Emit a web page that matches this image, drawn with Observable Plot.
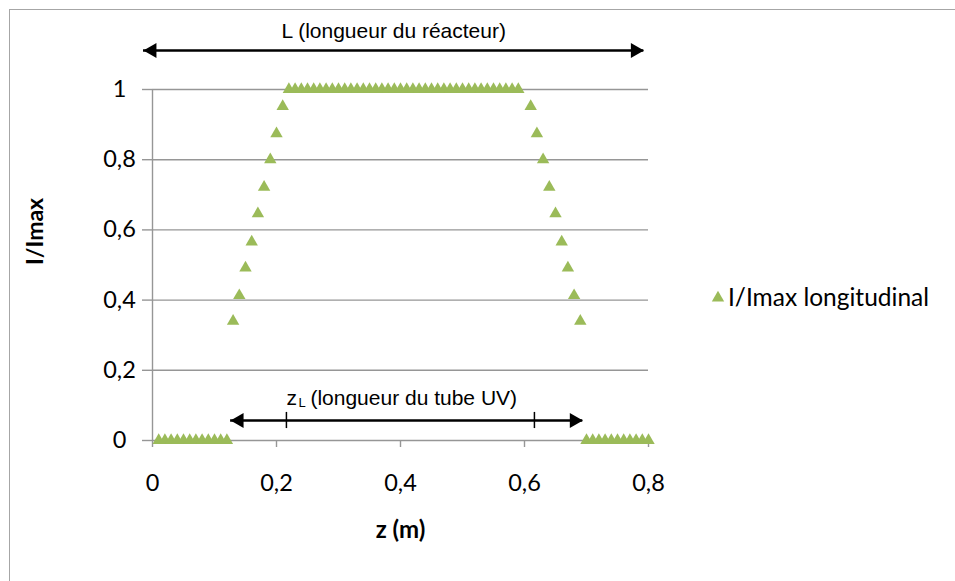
<!DOCTYPE html>
<html>
<head>
<meta charset="utf-8">
<script src="https://cdn.jsdelivr.net/npm/d3@7"></script>
<script src="https://cdn.jsdelivr.net/npm/@observablehq/plot@0.6"></script>
<style>
  html, body { margin: 0; padding: 0; background: #fff; overflow: hidden; }
  #wrap { position: relative; width: 955px; height: 581px; }
  #border { position: absolute; left: 9px; top: 9px; width: 980px; height: 620px; border: 1px solid #a6a6a6; box-sizing: border-box; }
  #chart { position: absolute; left: 0; top: 0; }
  #legend { position: absolute; left: 711px; top: 282px; display: flex; align-items: center; font-family: Lato, sans-serif; font-size: 24.5px; color: #000; }
  #legend svg { margin-right: 3px; }
  .annot text { font-family: "Liberation Sans", Arial, sans-serif; }
</style>
</head>
<body>
<div id="wrap">
  <div id="border"></div>
  <div id="chart"></div>
  <div id="legend"></div>
</div>
<script>
// Series: position along the reactor (m) and normalised intensity
const z = [
  0.01, 0.02, 0.03, 0.04, 0.05, 0.06, 0.07, 0.08, 0.09, 0.10, 0.11, 0.12,
  0.13, 0.14, 0.15, 0.16, 0.17, 0.18, 0.19, 0.20, 0.21,
  0.22, 0.23, 0.24, 0.25, 0.26, 0.27, 0.28, 0.29, 0.30, 0.31, 0.32, 0.33, 0.34,
  0.35, 0.36, 0.37, 0.38, 0.39, 0.40, 0.41, 0.42, 0.43, 0.44, 0.45, 0.46, 0.47,
  0.48, 0.49, 0.50, 0.51, 0.52, 0.53, 0.54, 0.55, 0.56, 0.57, 0.58, 0.59,
  0.61, 0.62, 0.63, 0.64, 0.65, 0.66, 0.67, 0.68, 0.69,
  0.70, 0.71, 0.72, 0.73, 0.74, 0.75, 0.76, 0.77, 0.78, 0.79, 0.80
];
const intensity = [
  0, 0, 0, 0, 0, 0, 0, 0, 0, 0, 0, 0,
  0.34, 0.413, 0.492, 0.566, 0.646, 0.722, 0.80, 0.874, 0.952,
  1, 1, 1, 1, 1, 1, 1, 1, 1, 1, 1, 1, 1,
  1, 1, 1, 1, 1, 1, 1, 1, 1, 1, 1, 1, 1,
  1, 1, 1, 1, 1, 1, 1, 1, 1, 1, 1, 1,
  0.952, 0.874, 0.80, 0.722, 0.646, 0.566, 0.492, 0.413, 0.34,
  0, 0, 0, 0, 0, 0, 0, 0, 0, 0, 0
];
const seriesName = "I/Imax longitudinal";
const xTicks = [0, 0.2, 0.4, 0.6, 0.8];
const yTicks = [0, 0.2, 0.4, 0.6, 0.8, 1];
const xTitle = "z (m)";
const yTitle = "I/Imax";

// Annotations (in data units)
const reactorArrow = [-0.0145, 0.7925];   // z extent of the "L" arrow
const reactorArrowY = 1.111;
const reactorLabel = "L (longueur du réacteur)";
const reactorLabelY = 1.166;
const tubeArrow = [0.126, 0.694];          // z extent of the "zL" arrow
const tubeArrowY = 0.057;
const tubeEnds = [0.216, 0.616];          // UV tube ends (tick marks)
const tubeTickY = [0.034, 0.080];
const tubeLabelMain = "z";
const tubeLabelSub = "L";
const tubeLabelRest = "(longueur du tube UV)";
const tubeLabelY = 0.121;

const data = z.map((v, i) => ({z: v, I: intensity[i]}));
const green = "#9bbb59";
const grid = "#969696";
const fmt = d => String(d).replace(".", ",");
const arial = "Liberation Sans, Arial, sans-serif";

const arrows = [
  {x1: reactorArrow[0], x2: reactorArrow[1], y: reactorArrowY},
  {x1: tubeArrow[0], x2: tubeArrow[1], y: tubeArrowY}
];
const headsL = arrows.map(a => ({x: a.x1, y: a.y}));
const headsR = arrows.map(a => ({x: a.x2, y: a.y}));

const chart = Plot.plot({
  width: 955,
  height: 581,
  marginLeft: 152,
  marginRight: 307,
  marginTop: 89,
  marginBottom: 141,
  style: {background: "transparent", fontFamily: "Lato, sans-serif", fontSize: "23px", color: "#000", overflow: "visible"},
  x: {domain: [0, 0.8]},
  y: {domain: [0, 1]},
  marks: [
    Plot.gridY(yTicks, {stroke: grid, strokeOpacity: 1, strokeWidth: 1.4}),
    Plot.axisY(yTicks, {tickFormat: fmt, tickSize: 10, tickPadding: 23, textAnchor: "middle", stroke: grid, strokeWidth: 1.4, fontSize: 23.5, fill: "#000", label: null}),
    Plot.axisX(xTicks, {tickFormat: fmt, tickSize: 7, tickPadding: 27, stroke: grid, strokeWidth: 1.4, fontSize: 23.5, fill: "#000", label: null}),
    Plot.ruleX([0], {y1: 0, y2: 1, stroke: grid, strokeWidth: 1.4}),
    Plot.dot(data, {x: "z", y: "I", symbol: "triangle", r: 4.6, fill: green, stroke: "none"}),
    // axis titles
    Plot.text([yTitle], {frameAnchor: "left", dx: -117, rotate: -90, fontWeight: "bold", fontSize: 23, fill: "#000"}),
    Plot.text([xTitle], {frameAnchor: "bottom", dy: 97, fontWeight: "bold", fontSize: 24, fill: "#000"}),
    // double arrows
    Plot.ruleY(arrows, {y: "y", x1: "x1", x2: "x2", stroke: "#000", strokeWidth: 2.5}),
    Plot.dot(headsL, {x: "x", y: "y", symbol: "triangle", r: 5.6, rotate: -90, dx: 8.6, fill: "#000", stroke: "none"}),
    Plot.dot(headsR, {x: "x", y: "y", symbol: "triangle", r: 5.6, rotate: 90, dx: -8.6, fill: "#000", stroke: "none"}),
    Plot.ruleX(tubeEnds, {y1: tubeTickY[0], y2: tubeTickY[1], stroke: "#000", strokeWidth: 1.5}),
    // annotation texts
    Plot.text([reactorLabel], {x: () => (reactorArrow[0] + reactorArrow[1]) / 2, y: () => reactorLabelY, className: "annot", fontFamily: arial, fontSize: 21, fill: "#000"}),
    Plot.text([tubeLabelMain], {x: () => tubeEnds[0], y: () => tubeLabelY, textAnchor: "start", className: "annot", fontFamily: arial, fontSize: 21, fill: "#000"}),
    Plot.text([tubeLabelSub], {x: () => tubeEnds[0], y: () => tubeLabelY, dx: 12, dy: 5, textAnchor: "start", className: "annot", fontFamily: arial, fontSize: 13, fill: "#000"}),
    Plot.text([tubeLabelRest], {x: () => tubeEnds[0], y: () => tubeLabelY, dx: 24, textAnchor: "start", className: "annot", fontFamily: arial, fontSize: 21, fill: "#000"})
  ]
});
document.getElementById("chart").appendChild(chart);

// legend
const leg = document.getElementById("legend");
const sym = d3.create("svg").attr("width", 14).attr("height", 14);
sym.append("path").attr("transform", "translate(7,8)").attr("d", d3.symbol(d3.symbolTriangle, 66)()).attr("fill", green);
leg.appendChild(sym.node());
const lt = document.createElement("span");
lt.textContent = seriesName;
leg.appendChild(lt);
</script>
</body>
</html>
